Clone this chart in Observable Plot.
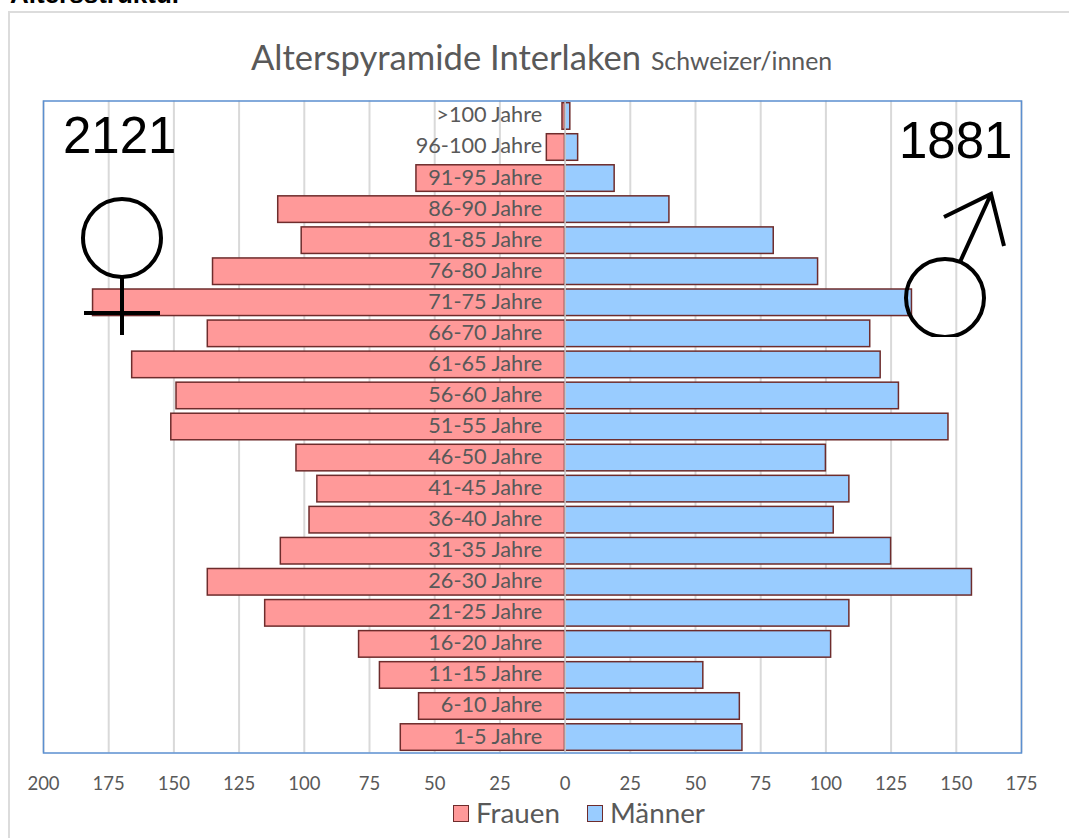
<!DOCTYPE html>
<html lang="de">
<head>
<meta charset="utf-8">
<script src="https://cdn.jsdelivr.net/npm/d3@7"></script>
<script src="https://cdn.jsdelivr.net/npm/@observablehq/plot@0.6"></script>
<style>
  html, body { margin: 0; padding: 0; background: #fff; overflow: hidden; }
  #page { position: relative; width: 1069px; height: 838px; overflow: hidden; font-family: "Lato", sans-serif; color: #595959; }
  #heading { position: absolute; left: 10px; top: -21px; font: bold 26px "Liberation Sans", sans-serif; color: #000; white-space: nowrap; }
  #box { position: absolute; left: 8px; top: 11px; width: 1100px; height: 900px; border: 2px solid #dcdcdc; box-sizing: border-box; }
  #title { position: absolute; left: 251px; top: 37px; font-size: 34.6px; line-height: 40px; white-space: nowrap; }
  #title small { font-size: 24.8px; margin-left: 1px; }
  #chart { position: absolute; left: 0; top: 0; }
  #legend { position: absolute; left: 453px; top: 797px; display: flex; align-items: center; font-size: 27.8px; line-height: 32px; white-space: nowrap; }
  #legend i { display: inline-block; width: 14px; height: 15px; border: 1.5px solid #6e2c2c; margin-right: 7px; }
  #legend span { margin-right: 27px; }
  #signs { position: absolute; left: 0; top: 0; pointer-events: none; }
</style>
</head>
<body>
<div id="page">
  <div id="heading">Altersstruktur</div>
  <div id="box"></div>
  <div id="chart"></div>
  <div id="title">Alterspyramide Interlaken <small>Schweizer/innen</small></div>
  <svg id="signs" width="1069" height="838" fill="none" stroke="#000" stroke-width="4">
    <circle cx="122" cy="238" r="39"/>
    <path d="M122 277V335M84 313H160"/>
    <clipPath id="cut"><rect x="890" y="240" width="110" height="97"/></clipPath>
    <circle cx="945" cy="298" r="39" clip-path="url(#cut)"/>
    <path d="M960 262L991 194M944 217L991 194L1004 246"/>
    <text id="totalF" x="63" y="153" fill="#000" stroke="none" font-family="Liberation Sans" font-size="51"></text>
    <text id="totalM" x="899" y="158" fill="#000" stroke="none" font-family="Liberation Sans" font-size="51"></text>
  </svg>
  <div id="legend"><i style="background:#ff9999"></i><span>Frauen</span><i style="background:#99ccff"></i><span>Männer</span></div>
</div>
<script>
const ageGroups = [">100 Jahre","96-100 Jahre","91-95 Jahre","86-90 Jahre","81-85 Jahre","76-80 Jahre","71-75 Jahre","66-70 Jahre","61-65 Jahre","56-60 Jahre","51-55 Jahre","46-50 Jahre","41-45 Jahre","36-40 Jahre","31-35 Jahre","26-30 Jahre","21-25 Jahre","16-20 Jahre","11-15 Jahre","6-10 Jahre","1-5 Jahre"];
const frauen = [1,7,57,110,101,135,181,137,166,149,151,103,95,98,109,137,115,79,71,56,63];
const maenner = [2,5,19,40,80,97,133,117,121,128,147,100,109,103,125,156,109,102,53,67,68];
const xTicks = [-200,-175,-150,-125,-100,-75,-50,-25,0,25,50,75,100,125,150,175];

const rows = ageGroups.map((age, i) => ({age, f: -frauen[i], m: maenner[i]}));
const barStroke = "#6e2c2c";

document.getElementById("totalF").textContent = d3.sum(frauen);
document.getElementById("totalM").textContent = d3.sum(maenner);

const plot = Plot.plot({
  width: 1069,
  height: 800,
  marginLeft: 43,
  marginRight: 48,
  marginTop: 100.5,
  marginBottom: 47.5,
  style: {background: "transparent", fontFamily: "Lato, sans-serif"},
  x: {domain: [-200, 175], label: null},
  y: {domain: ageGroups, paddingInner: 0.145, paddingOuter: 0.07, round: false, label: null, axis: null},
  marks: [
    Plot.ruleX(xTicks, {stroke: "#d9d9d9", strokeWidth: 2, strokeOpacity: 1}),
    Plot.barX(rows, {x1: 0, x2: "f", y: "age", fill: "#ff9999", stroke: barStroke, strokeWidth: 1.5}),
    Plot.barX(rows, {x1: 0, x2: "m", y: "age", fill: "#99ccff", stroke: barStroke, strokeWidth: 1.5}),
    Plot.ruleX([0], {stroke: "#cfcfcf", strokeWidth: 1.5}),
    Plot.text(rows, {x: 0, y: "age", text: "age", textAnchor: "end", dx: -23, dy: -1, fill: "#595959", fontSize: 21.7}),
    Plot.frame({stroke: "#5b8fd0", strokeWidth: 1.5}),
    Plot.axisX(xTicks, {tickSize: 0, tickPadding: 24, fontSize: 18.5, fill: "#595959", tickFormat: d => String(Math.abs(d)), label: null})
  ]
});
document.getElementById("chart").append(plot);
</script>
</body>
</html>
